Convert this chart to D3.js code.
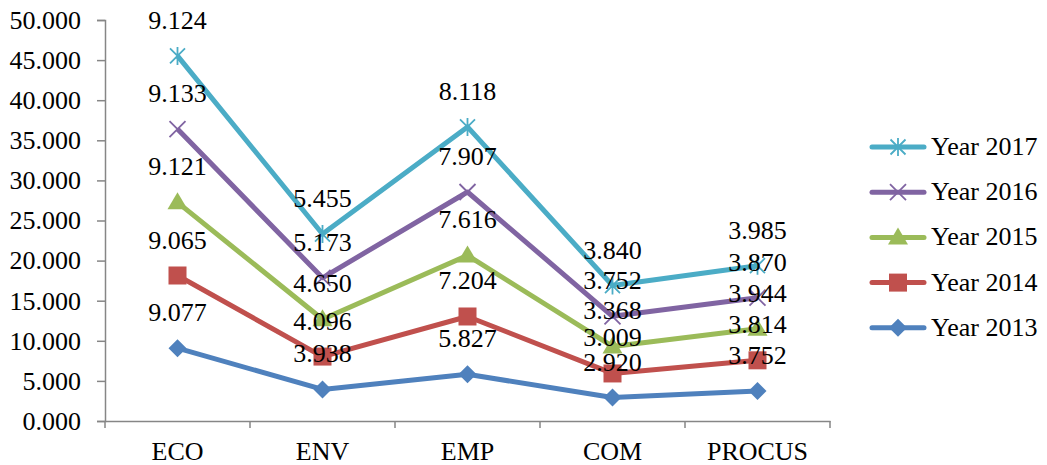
<!DOCTYPE html>
<html><head><meta charset="utf-8">
<script src="https://cdn.jsdelivr.net/npm/d3@7"></script>
<style>body{margin:0;background:#fff}svg{display:block}text{font-family:"Liberation Serif","Times New Roman",serif}</style>
</head><body><svg id="c" width="1047" height="465"></svg>
<script>
const categories = ["ECO","ENV","EMP","COM","PROCUS"];
const years = ["Year 2013","Year 2014","Year 2015","Year 2016","Year 2017"];
const v2013 = [9.077,3.938,5.827,2.920,3.752];
const v2014 = [9.065,4.096,7.204,3.009,3.814];
const v2015 = [9.121,4.650,7.616,3.368,3.944];
const v2016 = [9.133,5.173,7.907,3.752,3.870];
const v2017 = [9.124,5.455,8.118,3.840,3.985];
const yTicks = [0,5,10,15,20,25,30,35,40,45,50];
const colors = ["#4F81BD","#C0504D","#9BBB59","#8064A2","#4BACC6"];
const markers = ["diamond","square","triangle","x","star"];

const series = [v2013,v2014,v2015,v2016,v2017];
const FS = 26;
const svg = d3.select("#c");
const x = d3.scaleBand().domain(categories).range([105,830]);
const y = d3.scaleLinear().domain([0,50]).range([421,20]);
const cx = c => x(c)+x.bandwidth()/2;
const axisColor = "#868686";

// stacked cumulative
const stacked = [];
series.forEach((s,i)=>{
  stacked.push(s.map((v,j)=> v + (i>0 ? stacked[i-1][j] : 0)));
});

// y axis
const ya = svg.append("g").attr("transform","translate(105,0)")
  .call(d3.axisLeft(y).tickValues(yTicks).tickSize(8).tickPadding(16).tickFormat(d3.format(".3f")));
ya.select(".domain").attr("stroke",axisColor).attr("stroke-width",1.5);
ya.selectAll(".tick line").attr("stroke",axisColor).attr("stroke-width",1.5);
ya.selectAll("text").attr("font-size",FS).attr("fill","#000").style("font-family","Liberation Serif");

// x axis
const xa = svg.append("g").attr("transform","translate(0,421)")
  .call(d3.axisBottom(x).tickSize(0).tickPadding(21));
xa.select(".domain").attr("stroke",axisColor).attr("stroke-width",1.5);
xa.selectAll("text").attr("font-size",FS).attr("fill","#000").style("font-family","Liberation Serif");
const bounds = categories.map(c=>x(c)).concat([x.range()[1]]);
svg.append("g").selectAll("line").data(bounds).join("line")
  .attr("x1",d=>d).attr("x2",d=>d).attr("y1",421).attr("y2",428)
  .attr("stroke",axisColor).attr("stroke-width",1.5);

function drawMarker(g, type, color, px, py){
  if(type==="diamond"){
    g.append("path").attr("d",`M${px},${py-9}L${px+9},${py}L${px},${py+9}L${px-9},${py}Z`).attr("fill",color);
  } else if(type==="square"){
    g.append("rect").attr("x",px-9).attr("y",py-9).attr("width",18).attr("height",18).attr("fill",color);
  } else if(type==="triangle"){
    g.append("path").attr("d",`M${px},${py-10}L${px+10},${py+7}L${px-10},${py+7}Z`).attr("fill",color);
  } else if(type==="x"){
    g.append("path").attr("d",`M${px-8},${py-8}L${px+8},${py+8}M${px-8},${py+8}L${px+8},${py-8}`).attr("stroke",color).attr("stroke-width",1.8);
  } else if(type==="star"){
    g.append("path").attr("d",`M${px-7.5},${py-7.5}L${px+7.5},${py+7.5}M${px-7.5},${py+7.5}L${px+7.5},${py-7.5}M${px},${py-9}L${px},${py+9}`).attr("stroke",color).attr("stroke-width",1.8);
  }
}

const line = d3.line().x((d,j)=>cx(categories[j])).y(d=>y(d));
stacked.forEach((s,i)=>{
  const g = svg.append("g");
  g.append("path").attr("d",line(s)).attr("fill","none").attr("stroke",colors[i]).attr("stroke-width",5).attr("stroke-linejoin","round");
  s.forEach((v,j)=>drawMarker(g, markers[i], colors[i], cx(categories[j]), y(v)));
});

// labels
stacked.forEach((s,i)=>{
  svg.append("g").selectAll("text").data(s).join("text")
    .attr("x",(d,j)=>cx(categories[j])).attr("y",d=>y(d)-27)
    .attr("text-anchor","middle").attr("font-size",FS).attr("fill","#000")
    .text((d,j)=>d3.format(".3f")(series[i][j]));
});

// legend
const lg = svg.append("g");
const order = [4,3,2,1,0];
order.forEach((i,k)=>{
  const ly = 147 + k*45.2;
  lg.append("line").attr("x1",872).attr("x2",924).attr("y1",ly).attr("y2",ly)
    .attr("stroke",colors[i]).attr("stroke-width",5).attr("stroke-linecap","round");
  drawMarker(lg, markers[i], colors[i], 898, ly);
  lg.append("text").attr("x",931).attr("y",ly+8).attr("font-size",FS).attr("fill","#000").text(years[i]);
});
</script></body></html>
